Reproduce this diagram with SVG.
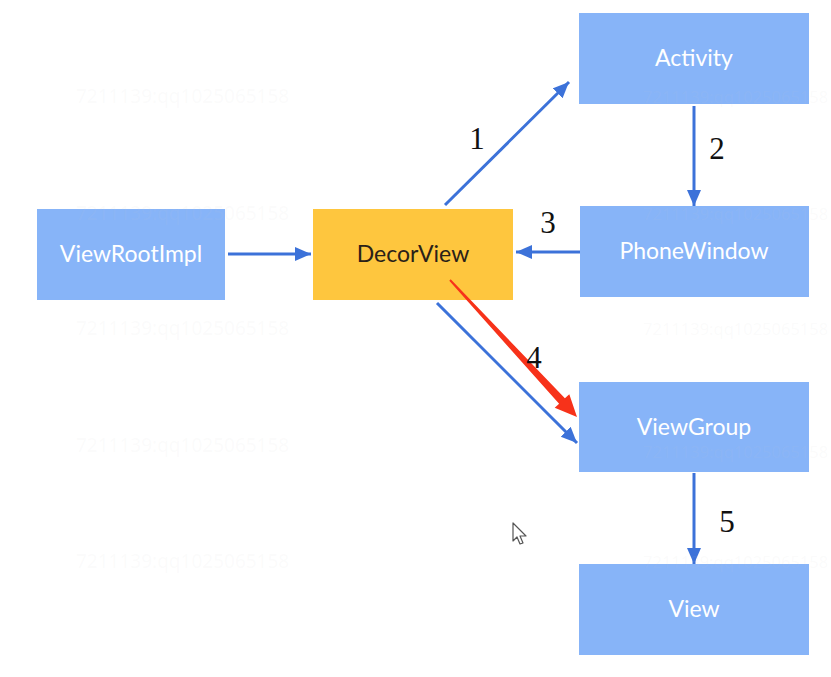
<svg xmlns="http://www.w3.org/2000/svg" width="831" height="677" viewBox="0 0 831 677">
<defs>
<style>
.wm{font-family:"Noto Sans",sans-serif;font-size:19px;fill:#c8c8c8;fill-opacity:0.08}
.wmr{font-family:"Noto Sans",sans-serif;font-size:16.5px;fill:#c8c8c8;fill-opacity:0.08}
.blue{fill:#87b4f8}
.yellow{fill:#fec63e}
.lbl{font-family:Lato,"Open Sans",sans-serif;font-size:23px;fill:#ffffff;text-anchor:middle}
.lbld{font-family:Lato,"Open Sans",sans-serif;font-size:23px;fill:#2a2118;text-anchor:middle}
.num{font-family:"Liberation Serif",serif;font-size:31px;fill:#111;text-anchor:middle}
.edge{stroke:#3c72d9;stroke-width:3;fill:none;marker-end:url(#ah)}
</style>
<marker id="ah" markerUnits="userSpaceOnUse" markerWidth="18" markerHeight="16" refX="16" refY="7" orient="auto">
<path d="M0,0 L16,7 L0,14 Z" fill="#3c72d9"/>
</marker>
</defs>
<rect width="831" height="677" fill="#ffffff"/>
<g id="nodes">
<g id="ViewRootImpl"><rect class="blue" x="37" y="209" width="188" height="91"/><text class="lbl" x="131" y="262">ViewRootImpl</text></g>
<g id="DecorView"><rect class="yellow" x="313" y="209" width="200" height="91"/><text class="lbld" x="413" y="262">DecorView</text></g>
<g id="Activity"><rect class="blue" x="579" y="13" width="230" height="91"/><text class="lbl" x="694" y="66">Activity</text></g>
<g id="PhoneWindow"><rect class="blue" x="580" y="206" width="229" height="91"/><text class="lbl" x="694" y="259">PhoneWindow</text></g>
<g id="ViewGroup"><rect class="blue" x="579" y="382" width="230" height="90"/><text class="lbl" x="694" y="435">ViewGroup</text></g>
<g id="View"><rect class="blue" x="579" y="564" width="230" height="91"/><text class="lbl" x="694" y="617">View</text></g>
</g>
<g id="connectors">
<line class="edge" x1="228" y1="254" x2="311" y2="254"/>
<line class="edge" x1="445" y1="205" x2="569" y2="82"/>
<line class="edge" x1="694" y1="106" x2="694" y2="206"/>
<line class="edge" x1="580" y1="252" x2="516" y2="252"/>
<line class="edge" x1="437" y1="303" x2="577" y2="443"/>
<line class="edge" x1="694" y1="473" x2="694" y2="564"/>
<polygon fill="#f7321a" points="450.7,279.3 564.9,398.3 569.3,394.2 577,417 554.7,407.8 559.1,403.7 449.3,280.7"/>
</g>
<g id="labels">
<text class="num" x="477" y="149">1</text>
<text class="num" x="717" y="159">2</text>
<text class="num" x="548" y="233">3</text>
<text class="num" x="534" y="368">4</text>
<text class="num" x="727" y="532">5</text>
</g>
<g id="watermark">
<text class="wm" x="76" y="103">7211139:qq1025065158</text>
<text class="wm" x="76" y="220">7211139:qq1025065158</text>
<text class="wm" x="76" y="335">7211139:qq1025065158</text>
<text class="wm" x="76" y="452">7211139:qq1025065158</text>
<text class="wm" x="76" y="568">7211139:qq1025065158</text>
<text class="wmr" x="643" y="103">7211139:qq1025065158</text>
<text class="wmr" x="643" y="220">7211139:qq1025065158</text>
<text class="wmr" x="643" y="335">7211139:qq1025065158</text>
<text class="wmr" x="643" y="458">7211139:qq1025065158</text>
<text class="wmr" x="643" y="568">7211139:qq1025065158</text>
</g>
<g id="cursor">
<path d="M513,523 L513,541 L517,537 L520,544 L523,543 L520,536 L526,536 Z" fill="#ffffff" stroke="#555" stroke-width="1.2" stroke-linejoin="round"/>
</g>
</svg>
